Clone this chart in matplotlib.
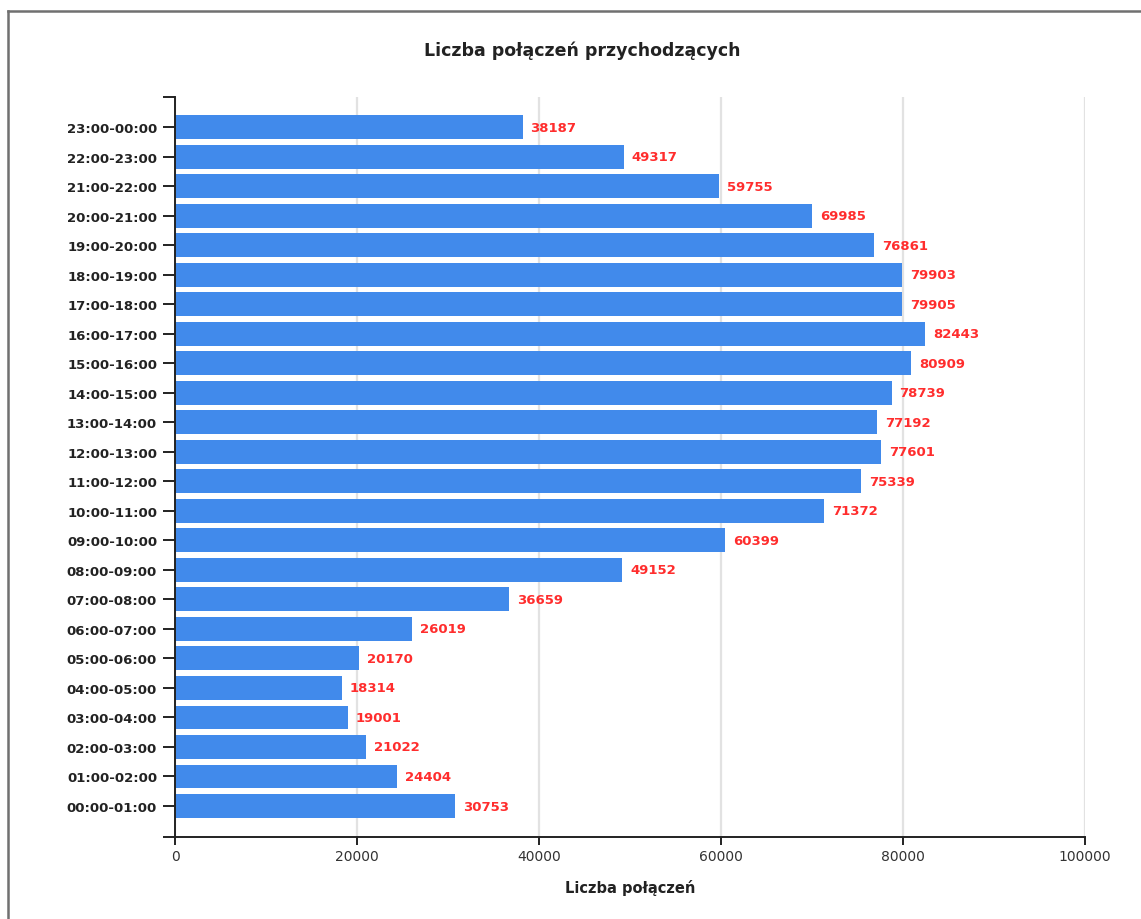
import matplotlib.pyplot as plt
from matplotlib.lines import Line2D

# incoming calls per hour of day, 00:00-01:00 first
hours = list(range(24))
hour_labels = [f"{h:02d}:00-{(h + 1) % 24:02d}:00" for h in hours]
calls = [
    30753, 24404, 21022, 19001, 18314, 20170, 26019, 36659,
    49152, 60399, 71372, 75339, 77601, 77192, 78739, 80909,
    82443, 79905, 79903, 76861, 69985, 59755, 49317, 38187,
]
x_ticks = [0, 20000, 40000, 60000, 80000, 100000]

W, H = 1141, 920
fig = plt.figure(figsize=(W / 100, H / 100), dpi=100)
plt.rcParams["font.family"] = ["DejaVu Sans"]

ax = fig.add_axes([175 / W, 82 / H, 910 / W, 740 / H])

y_lo, y_hi = -1.05, 24.02
ax.barh(hours, calls, height=0.81, color="#418aeb", zorder=2)
for h, v in zip(hours, calls):
    ax.annotate(str(v), xy=(v, h), xytext=(5.8, 0), textcoords="offset points",
                ha="left", va="center", color="#ff2d2d", fontsize=9.5,
                fontweight="bold", zorder=3)

ax.set_xlim(0, 100000)
ax.set_ylim(y_lo, y_hi)
ax.set_xticks(x_ticks)
ax.set_xticklabels([str(t) for t in x_ticks], fontsize=10, color="#333333")
ax.set_yticks(hours)
ax.set_yticklabels(hour_labels, fontsize=9.5, fontweight="bold", color="#222222")
# end caps of the y axis
ax.set_yticks([y_lo, y_hi], minor=True)

ax.tick_params(axis="y", which="both", length=8.6, width=1.4, color="#222222", pad=4.3)
ax.tick_params(axis="x", length=5.8, width=1.4, color="#222222", pad=2.5)

ax.grid(axis="x", color="#e2e2e2", linewidth=1.6, zorder=0)
ax.set_axisbelow(True)

for side in ("top", "right"):
    ax.spines[side].set_visible(False)
for side in ("left", "bottom"):
    ax.spines[side].set_color("#222222")
    ax.spines[side].set_linewidth(1.4)

ax.set_xlabel("Liczba połączeń", fontsize=10.5, fontweight="bold",
              color="#222222", labelpad=12)

fig.text(582 / W, 1 - 56 / H, "Liczba połączeń przychodzących",
         ha="center", va="baseline", fontsize=12.5, fontweight="bold",
         color="#222222")

# outer frame
frame_kw = dict(color="#707070", linewidth=1.8, transform=fig.transFigure)
fig.add_artist(Line2D([8 / W, 8 / W], [0, 1 - 12 / H], **frame_kw))
fig.add_artist(Line2D([8 / W, 1.0], [1 - 12 / H, 1 - 12 / H], **frame_kw))

fig.savefig("out.png", dpi=100)
